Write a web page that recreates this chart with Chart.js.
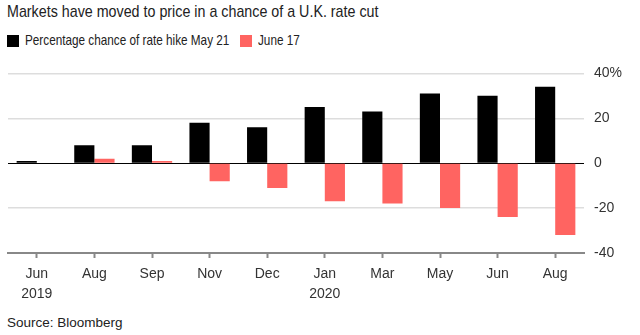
<!DOCTYPE html>
<html>
<head>
<meta charset="utf-8">
<script src="https://cdn.jsdelivr.net/npm/chart.js@4"></script>
<style>
  body { margin: 0; background: #fff; width: 640px; height: 335px; overflow: hidden; position: relative; font-family: "Liberation Sans", Arial, sans-serif; color: #222; }
  .narrow { display: inline-block; transform-origin: 0 50%; white-space: nowrap; }
  #title { position: absolute; left: 7px; top: 1px; font-size: 17px; line-height: 22px; color: #222; transform: scaleX(0.84); }
  .sw { position: absolute; top: 35px; width: 12px; height: 12px; }
  .lg { position: absolute; top: 31px; font-size: 14.5px; line-height: 18px; color: #222; transform: scaleX(0.81); }
  #source { position: absolute; left: 7px; top: 314px; font-size: 13.5px; line-height: 18px; color: #222; }
  #wrap { position: absolute; left: 0; top: 55px; width: 640px; height: 250px; }
</style>
</head>
<body>
<div id="title" class="narrow">Markets have moved to price in a chance of a U.K. rate cut</div>
<div id="legend"></div>
<div id="wrap"><canvas id="chart"></canvas></div>
<div id="source">Source: Bloomberg</div>
<script>
const months = [['Jun', '2019'], 'Aug', 'Sep', 'Nov', 'Dec', ['Jan', '2020'], 'Mar', 'May', 'Jun', 'Aug'];
const may21 = [1, 8, 8, 18, 16, 25, 23, 31, 30, 34];
const june17 = [0.2, 2, 1, -8, -11, -17, -18, -20, -24, -32];
const seriesNames = ['Percentage chance of rate hike May 21', 'June 17'];
const yTicks = [-40, -20, 0, 20, 40];

const colors = ['#000000', '#ff6461'];
const legendX = [7, 240]; // swatch left edges

// legend in html, text squeezed to look condensed
const legend = document.getElementById('legend');
seriesNames.forEach(function (name, i) {
    const sw = document.createElement('div');
    sw.className = 'sw';
    sw.style.left = legendX[i] + 'px';
    sw.style.background = colors[i];
    legend.appendChild(sw);
    const t = document.createElement('div');
    t.className = 'lg narrow';
    t.style.left = (legendX[i] + 18) + 'px';
    t.textContent = name;
    legend.appendChild(t);
});

const ctx = document.getElementById('chart').getContext('2d');
new Chart(ctx, {
    type: 'bar',
    data: {
        labels: months,
        datasets: [
            { label: seriesNames[0], data: may21, backgroundColor: colors[0] },
            { label: seriesNames[1], data: june17, backgroundColor: colors[1] }
        ]
    },
    options: {
        responsive: true,
        maintainAspectRatio: false,
        animation: false,
        layout: { padding: { left: 8, right: 0, top: 16, bottom: 0 } },
        datasets: {
            bar: { categoryPercentage: 0.7, barPercentage: 1.0 }
        },
        plugins: {
            legend: { display: false },
            tooltip: { enabled: false }
        },
        scales: {
            x: {
                grid: {
                    offset: false,
                    drawOnChartArea: false,
                    drawTicks: true,
                    tickLength: 5,
                    tickWidth: 2,
                    color: '#888'
                },
                border: { display: true, color: '#888', width: 2 },
                ticks: {
                    color: '#333',
                    padding: 6,
                    maxRotation: 0,
                    autoSkip: false,
                    font: { family: '"Liberation Sans", Arial, sans-serif', size: 14, lineHeight: 1.45 }
                },
                afterFit: function (scale) { scale.height = 52; }
            },
            y: {
                position: 'right',
                min: yTicks[0],
                max: yTicks[yTicks.length - 1],
                afterBuildTicks: function (scale) {
                    scale.ticks = yTicks.map(function (v) { return { value: v }; });
                },
                grid: {
                    drawTicks: false,
                    color: function (c) {
                        if (c.tick.value === 0) return '#000';
                        if (c.tick.value === yTicks[0]) return 'rgba(0,0,0,0)';
                        return '#dddddd';
                    },
                    lineWidth: function (c) { return c.tick.value === 0 ? 1 : 1.5; }
                },
                border: { display: false },
                ticks: {
                    color: '#333',
                    padding: 10,
                    font: { family: '"Liberation Sans", Arial, sans-serif', size: 14 },
                    callback: function (value) {
                        return value === yTicks[yTicks.length - 1] ? value + '%' : value;
                    }
                },
                afterFit: function (scale) { scale.width = 56; }
            }
        }
    }
});
</script>
</body>
</html>
